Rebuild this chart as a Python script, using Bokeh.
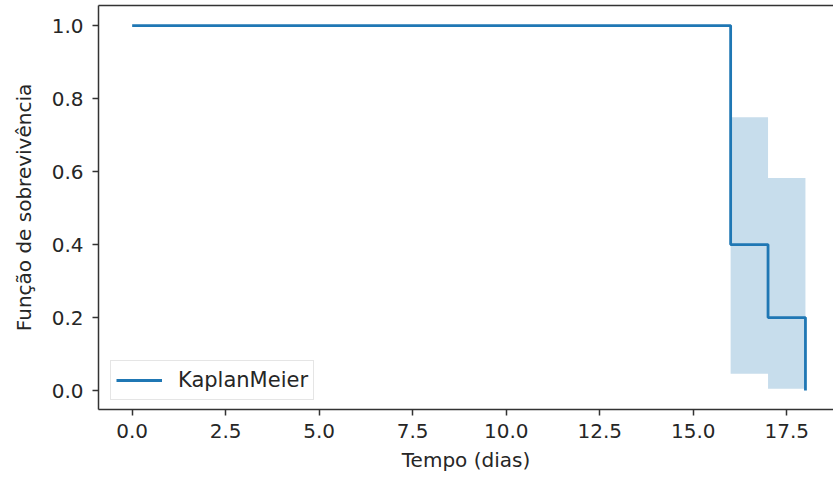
from bokeh.plotting import figure
from bokeh.models import (LinearAxis, FixedTicker, PrintfTickFormatter, Legend,
                          LegendItem, Range1d)
from bokeh.embed import file_html
from bokeh.resources import INLINE

# ---- data (Kaplan-Meier estimate) ----
tempo = [0, 16, 17, 18]
sobrevivencia = [1.0, 0.4, 0.2, 0.0]
ic_inferior = [1.0, 0.046, 0.005, 0.005]
ic_superior = [1.0, 0.749, 0.582, 0.582]
x_ticks = [0.0, 2.5, 5.0, 7.5, 10.0, 12.5, 15.0, 17.5]
y_ticks = [0.0, 0.2, 0.4, 0.6, 0.8, 1.0]
serie_nome = "KaplanMeier"
x_titulo = "Tempo (dias)"
y_titulo = "Função de sobrevivência"

FONT = "DejaVu Sans"
TXT = "#262626"
SPINE = "#333333"
BLUE = "#1f77b4"

p = figure(width=833, height=479, output_backend="svg", toolbar_location=None,
           x_range=Range1d(-0.9, 18.75), y_range=Range1d(-0.052, 1.055),
           min_border_left=98, min_border_right=0, min_border_top=5,
           min_border_bottom=70, x_axis_type=None, y_axis_type=None)
p.outline_line_color = None
p.xgrid.visible = False
p.ygrid.visible = False
p.background_fill_color = "white"
p.border_fill_color = "white"

def style(ax):
    ax.axis_line_color = SPINE
    ax.axis_line_width = 1.5
    ax.major_tick_line_color = SPINE
    ax.major_tick_line_width = 1.5
    ax.major_tick_out = 6
    ax.major_tick_in = 0
    ax.minor_tick_line_color = None
    ax.major_label_text_font = FONT
    ax.major_label_text_font_size = "20px"
    ax.major_label_text_color = TXT
    ax.axis_label_text_font = FONT
    ax.axis_label_text_font_size = "20px"
    ax.axis_label_text_color = TXT
    ax.axis_label_text_font_style = "normal"
    ax.formatter = PrintfTickFormatter(format="%.1f")

xax = LinearAxis(ticker=FixedTicker(ticks=x_ticks), axis_label=x_titulo)
style(xax)
xax.major_label_standoff = 8
xax.axis_label_standoff = 7
p.add_layout(xax, "below")

yax = LinearAxis(ticker=FixedTicker(ticks=y_ticks), axis_label=y_titulo)
style(yax)
yax.major_label_standoff = 9
yax.axis_label_standoff = 13
p.add_layout(yax, "left")

top = LinearAxis(ticker=FixedTicker(ticks=[]))
top.axis_line_color = SPINE
top.axis_line_width = 1.5
top.major_tick_line_color = None
top.minor_tick_line_color = None
top.major_tick_out = 0
top.major_label_standoff = 0
top.major_label_text_font_size = "0px"
p.add_layout(top, "above")

p.varea_step(x=tempo, y1=ic_inferior, y2=ic_superior, step_mode="after",
             fill_color=BLUE, fill_alpha=0.25)
r = p.step(x=tempo, y=sobrevivencia, mode="after", line_color=BLUE,
           line_width=2.8)

legend = Legend(items=[LegendItem(label=serie_nome, renderers=[r])],
                location=(12, 9))
legend.label_text_font = FONT
legend.label_text_font_size = "21px"
legend.label_text_color = TXT
legend.glyph_width = 46
legend.label_standoff = 16
legend.border_line_color = "#cccccc"
legend.border_line_width = 1.5
legend.padding = 5
legend.margin = 0
legend.spacing = 0
legend.label_height = 28
p.add_layout(legend, "center")

open("out.html", "w").write(file_html(p, INLINE))
